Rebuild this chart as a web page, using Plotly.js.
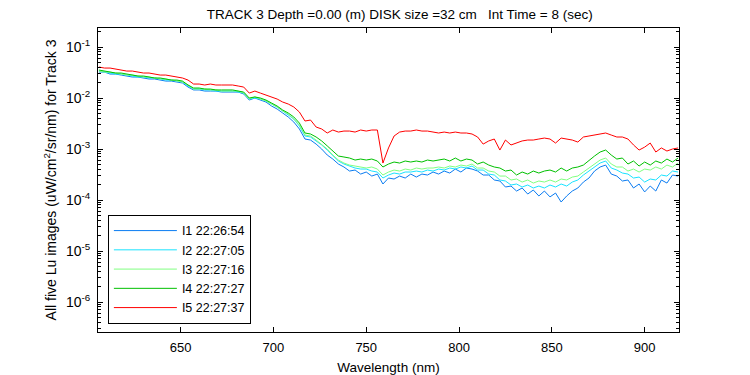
<!DOCTYPE html>
<html>
<head>
<meta charset="utf-8">
<script src="https://cdn.plot.ly/plotly-3.0.1.min.js"></script>
<style>html,body{margin:0;padding:0;background:#fff;}#chart{width:750px;height:375px;}</style>
</head>
<body>
<div id="chart"></div>
<script>
// Wavelength grid (nm)
const wavelength = [];
for (let w = 606; w <= 918; w += 3) wavelength.push(w);

const seriesNames = ["I1 22:26:54", "I2 22:27:05", "I3 22:27:16", "I4 22:27:27", "I5 22:27:37"];
const seriesColors = ["#0a7cf2", "#19e3ff", "#80ff80", "#00c000", "#ff0000"];

const lu_I1 = [3.23e-2,3.23e-2,2.95e-2,2.95e-2,2.82e-2,2.70e-2,2.58e-2,2.58e-2,2.47e-2,2.36e-2,2.36e-2,2.25e-2,2.15e-2,2.15e-2,2.06e-2,1.97e-2,1.64e-2,1.44e-2,1.44e-2,1.37e-2,1.37e-2,1.37e-2,1.31e-2,1.31e-2,1.31e-2,1.31e-2,1.20e-2,9.13e-3,1.00e-2,9.13e-3,8.34e-3,6.97e-3,6.08e-3,5.08e-3,4.24e-3,3.38e-3,2.47e-3,1.57e-3,1.50e-3,1.25e-3,1.00e-3,7.62e-4,6.36e-4,5.08e-4,4.44e-4,3.70e-4,3.87e-4,3.23e-4,3.54e-4,2.95e-4,3.23e-4,2.06e-4,2.70e-4,2.58e-4,2.95e-4,2.70e-4,3.23e-4,2.82e-4,3.23e-4,3.09e-4,3.54e-4,3.23e-4,3.70e-4,3.38e-4,4.05e-4,3.54e-4,4.24e-4,4.05e-4,3.70e-4,3.09e-4,3.09e-4,2.47e-4,2.36e-4,1.80e-4,1.88e-4,1.50e-4,1.72e-4,1.31e-4,1.57e-4,1.20e-4,1.50e-4,1.15e-4,1.37e-4,9.13e-5,1.20e-4,1.50e-4,1.72e-4,2.25e-4,2.70e-4,3.70e-4,4.44e-4,4.85e-4,3.23e-4,2.95e-4,2.36e-4,2.47e-4,1.72e-4,2.06e-4,1.44e-4,1.88e-4,1.50e-4,2.47e-4,2.15e-4,3.09e-4,2.95e-4];

const lu_I2 = [3.38e-2,3.23e-2,3.09e-2,2.95e-2,2.95e-2,2.82e-2,2.70e-2,2.58e-2,2.58e-2,2.47e-2,2.47e-2,2.36e-2,2.25e-2,2.25e-2,2.15e-2,2.06e-2,1.72e-2,1.50e-2,1.50e-2,1.44e-2,1.44e-2,1.37e-2,1.37e-2,1.37e-2,1.37e-2,1.31e-2,1.25e-2,9.55e-3,1.00e-2,9.55e-3,8.73e-3,7.62e-3,6.66e-3,5.56e-3,4.64e-3,3.87e-3,2.82e-3,1.80e-3,1.72e-3,1.44e-3,1.20e-3,9.55e-4,7.29e-4,5.82e-4,5.08e-4,4.64e-4,4.24e-4,4.05e-4,4.05e-4,3.70e-4,3.54e-4,2.70e-4,3.09e-4,3.38e-4,3.23e-4,3.54e-4,3.54e-4,3.70e-4,3.54e-4,3.87e-4,3.70e-4,4.05e-4,3.87e-4,4.24e-4,4.05e-4,4.44e-4,4.24e-4,4.64e-4,3.87e-4,3.87e-4,3.23e-4,3.09e-4,2.47e-4,2.36e-4,1.97e-4,2.06e-4,1.80e-4,1.97e-4,1.72e-4,1.88e-4,1.72e-4,1.97e-4,1.80e-4,2.06e-4,1.88e-4,2.25e-4,2.47e-4,3.09e-4,3.70e-4,4.44e-4,5.31e-4,5.82e-4,4.24e-4,3.87e-4,3.38e-4,3.23e-4,2.70e-4,2.82e-4,2.25e-4,2.58e-4,2.47e-4,3.09e-4,2.95e-4,3.70e-4,3.54e-4];

const lu_I3 = [3.38e-2,3.23e-2,3.23e-2,3.09e-2,2.95e-2,2.82e-2,2.82e-2,2.70e-2,2.58e-2,2.58e-2,2.47e-2,2.36e-2,2.36e-2,2.25e-2,2.15e-2,2.06e-2,1.80e-2,1.50e-2,1.50e-2,1.50e-2,1.44e-2,1.44e-2,1.37e-2,1.37e-2,1.37e-2,1.37e-2,1.25e-2,9.55e-3,1.05e-2,9.55e-3,8.73e-3,7.62e-3,6.66e-3,5.56e-3,4.85e-3,3.87e-3,2.95e-3,1.88e-3,1.80e-3,1.50e-3,1.25e-3,1.00e-3,7.62e-4,6.08e-4,5.31e-4,4.85e-4,4.64e-4,4.44e-4,4.24e-4,4.44e-4,4.05e-4,3.09e-4,3.54e-4,3.87e-4,3.70e-4,4.05e-4,3.87e-4,4.24e-4,4.05e-4,4.24e-4,4.24e-4,4.44e-4,4.24e-4,4.64e-4,4.44e-4,4.85e-4,4.64e-4,5.08e-4,4.24e-4,4.24e-4,3.70e-4,3.54e-4,2.95e-4,2.95e-4,2.47e-4,2.58e-4,2.25e-4,2.47e-4,2.15e-4,2.36e-4,2.25e-4,2.47e-4,2.25e-4,2.58e-4,2.47e-4,2.82e-4,2.95e-4,3.54e-4,4.24e-4,5.08e-4,6.08e-4,6.66e-4,5.08e-4,4.44e-4,4.44e-4,3.70e-4,4.05e-4,3.54e-4,4.05e-4,3.87e-4,4.44e-4,4.05e-4,4.85e-4,4.44e-4,5.31e-4];

const lu_I4 = [3.54e-2,3.38e-2,3.23e-2,3.09e-2,3.09e-2,2.95e-2,2.82e-2,2.70e-2,2.70e-2,2.58e-2,2.47e-2,2.47e-2,2.36e-2,2.25e-2,2.25e-2,2.15e-2,1.80e-2,1.57e-2,1.57e-2,1.50e-2,1.50e-2,1.44e-2,1.44e-2,1.44e-2,1.44e-2,1.37e-2,1.31e-2,1.00e-2,1.05e-2,1.00e-2,9.13e-3,7.98e-3,6.97e-3,5.82e-3,5.08e-3,4.24e-3,3.23e-3,2.06e-3,1.97e-3,1.72e-3,1.44e-3,1.15e-3,9.13e-4,7.29e-4,6.97e-4,6.66e-4,6.08e-4,6.36e-4,6.08e-4,6.36e-4,5.82e-4,4.44e-4,5.08e-4,5.56e-4,5.31e-4,5.82e-4,5.56e-4,5.82e-4,5.56e-4,6.08e-4,5.82e-4,6.08e-4,6.36e-4,5.82e-4,6.66e-4,5.82e-4,6.36e-4,6.08e-4,5.08e-4,5.56e-4,4.85e-4,4.44e-4,4.24e-4,3.70e-4,3.87e-4,3.09e-4,3.54e-4,3.23e-4,3.70e-4,3.38e-4,3.70e-4,3.87e-4,3.54e-4,4.24e-4,3.70e-4,4.24e-4,4.44e-4,4.85e-4,6.08e-4,7.29e-4,8.73e-4,9.55e-4,7.62e-4,6.36e-4,6.66e-4,5.08e-4,5.82e-4,4.64e-4,5.56e-4,4.85e-4,5.82e-4,5.31e-4,6.36e-4,5.56e-4,6.66e-4];

const lu_I5 = [4.05e-2,3.87e-2,3.87e-2,3.70e-2,3.54e-2,3.38e-2,3.38e-2,3.23e-2,3.09e-2,3.09e-2,2.95e-2,2.82e-2,2.82e-2,2.70e-2,2.58e-2,2.47e-2,2.25e-2,1.88e-2,1.88e-2,1.80e-2,1.88e-2,1.80e-2,1.80e-2,1.80e-2,1.80e-2,1.72e-2,1.64e-2,1.25e-2,1.37e-2,1.25e-2,1.15e-2,1.05e-2,9.55e-3,8.34e-3,7.62e-3,6.66e-3,5.31e-3,3.54e-3,3.70e-3,2.70e-3,2.47e-3,2.06e-3,2.36e-3,2.15e-3,2.25e-3,2.25e-3,2.15e-3,2.36e-3,2.25e-3,2.36e-3,2.36e-3,5.31e-4,1.05e-3,1.80e-3,2.15e-3,2.25e-3,2.25e-3,2.36e-3,2.25e-3,2.25e-3,2.15e-3,2.06e-3,2.15e-3,2.06e-3,2.15e-3,2.06e-3,2.06e-3,1.97e-3,1.72e-3,1.25e-3,1.44e-3,1.57e-3,9.55e-4,1.50e-3,1.20e-3,1.31e-3,1.44e-3,1.50e-3,1.50e-3,1.57e-3,1.64e-3,1.57e-3,1.31e-3,1.64e-3,1.57e-3,1.50e-3,1.37e-3,1.72e-3,1.80e-3,1.88e-3,1.97e-3,2.06e-3,1.88e-3,1.72e-3,1.72e-3,1.57e-3,1.20e-3,9.55e-4,1.09e-3,1.31e-3,8.73e-4,1.05e-3,9.13e-4,1.00e-3,1.05e-3];

const xTickVals = [650, 700, 750, 800, 850, 900];
const yTickVals = [1e-6, 1e-5, 1e-4, 1e-3, 1e-2, 1e-1];
const yTickText = ["10<sup>-6</sup>", "10<sup>-5</sup>", "10<sup>-4</sup>", "10<sup>-3</sup>", "10<sup>-2</sup>", "10<sup>-1</sup>"];
const yMinorVals = [];
for (let e = -7; e <= -1; e++) for (let m = 2; m <= 9; m++) yMinorVals.push(m * Math.pow(10, e));

const allSeries = [lu_I1, lu_I2, lu_I3, lu_I4, lu_I5];
const traces = allSeries.map((s, i) => ({
  x: wavelength, y: s, type: 'scatter', mode: 'lines',
  name: seriesNames[i], line: {color: seriesColors[i], width: 1}
}));

const fam = 'Liberation Sans, Arial, sans-serif';
const font = {family: fam, size: 13, color: '#000'};
const layout = {
  width: 750, height: 375,
  margin: {l: 98, r: 71, t: 28, b: 43, pad: 0},
  paper_bgcolor: '#fff', plot_bgcolor: '#fff',
  font: font,
  title: {text: 'TRACK 3 Depth =0.00 (m) DISK size =32 cm   Int Time = 8 (sec)', x: 0.533, xanchor: 'center', y: 0.962, yanchor: 'middle', font: {family: fam, size: 13.5, color: '#000'}},
  xaxis: {
    range: [605.5, 918.5], tickvals: xTickVals, ticks: 'inside', ticklen: 5, tickcolor: '#000',
    showline: true, linecolor: '#000', linewidth: 1, mirror: 'allticks', showgrid: false, zeroline: false,
    ticklabelstandoff: 3,
    tickfont: font, title: {text: 'Wavelength (nm)', font: {family: fam, size: 13.5, color: '#000'}, standoff: 10}
  },
  yaxis: {
    type: 'log', range: [-6.588, -0.627], tickvals: yTickVals, ticktext: yTickText,
    ticks: 'inside', ticklen: 5, tickcolor: '#000',
    minor: {tickvals: yMinorVals, ticks: 'inside', ticklen: 3, tickcolor: '#000', showgrid: false},
    showline: true, linecolor: '#000', linewidth: 1, mirror: 'allticks', showgrid: false, zeroline: false,
    ticklabelstandoff: 4,
    tickfont: {family: fam, size: 14, color: '#000'},
    title: {text: 'All five Lu images (uW/cm<sup>2</sup>/sr/nm) for Track 3', font: {family: fam, size: 14, color: '#000'}, standoff: 6}
  },
  showlegend: true,
  legend: {x: 0.017, y: 0.385, xanchor: 'left', yanchor: 'top', bgcolor: '#fff', bordercolor: '#000', borderwidth: 1,
    font: {family: fam, size: 12.5, color: '#000'}, itemwidth: 63, tracegroupgap: 0}
};
Plotly.newPlot('chart', traces, layout, {displayModeBar: false, staticPlot: true});
</script>
</body>
</html>
